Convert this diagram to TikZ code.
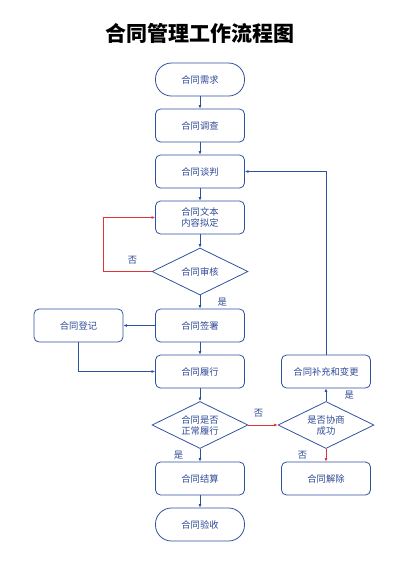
\documentclass[tikz,border=0pt]{standalone}
\usepackage{fontspec}
\setmainfont{Noto Sans CJK SC}
\usetikzlibrary{arrows.meta,positioning,shapes.geometric}
\definecolor{lineblue}{RGB}{47,82,160}
\definecolor{textblue}{RGB}{46,74,150}
\definecolor{nored}{RGB}{226,52,52}

\begin{document}
\begin{tikzpicture}[x=1pt,y=-1pt,node distance=46pt,auto,>={Latex[length=3.5pt,width=3pt]}]
    \tikzstyle{every node}=[font=\fontsize{9.3}{11}\selectfont,text=textblue]
    \tikzstyle{process}=[draw=lineblue,line width=0.8pt,rounded corners=5pt,minimum width=89pt,minimum height=33pt,align=center,inner sep=2pt]
    \tikzstyle{terminal}=[process,rounded corners=16pt]
    \tikzstyle{decision}=[diamond,draw=lineblue,line width=0.8pt,aspect=2,minimum width=96pt,minimum height=47pt,inner sep=0pt,align=center]
    \tikzstyle{flow}=[->,draw=lineblue,line width=0.8pt]
    \tikzstyle{reject}=[->,draw=nored,line width=0.8pt]

    \useasboundingbox (0,0) rectangle (400,566);
    \node[font=\fontsize{21}{21}\selectfont\bfseries,text=black] (title) at (200,33) {合同管理工作流程图};

    \node[terminal] (need)                         at (200,79.5) {合同需求};
    \node[process]  (survey)    [below of=need]                  {合同调查};
    \node[process]  (negotiate) [below of=survey]                {合同谈判};
    \node[process]  (draft)     [below of=negotiate]             {合同文本\\内容拟定};
    \node[decision] (review)    [node distance=54pt,below of=draft]   {合同审核};
    \node[process]  (sign)      [node distance=54pt,below of=review]  {合同签署};
    \node[process]  (register)  [node distance=121.5pt,left of=sign]  {合同登记};
    \node[process]  (perform)   [below of=sign]                  {合同履行};
    \node[decision] (normal)    [node distance=53.5pt,below of=perform] {合同是否\\正常履行};
    \node[process]  (settle)    [node distance=53.5pt,below of=normal]  {合同结算};
    \node[terminal] (accept)    [below of=settle]                {合同验收};
    \node[process]  (supplement) [node distance=126pt,right of=perform] {合同补充和变更};
    \node[decision] (consult)   [node distance=126pt,right of=normal]   {是否协商\\成功};
    \node[process]  (dissolve)  [node distance=126pt,right of=settle]   {合同解除};

    \path[flow]
    (need) edge (survey)
    (survey) edge (negotiate)
    (negotiate) edge (draft)
    (draft) edge (review)
    (review) edge node[right=14pt] {是} (sign)
    (sign) edge (register)
    (sign) edge (perform)
    (perform) edge (normal)
    (normal) edge node[left=13pt] {是} (settle)
    (settle) edge (accept)
    (consult) edge node[right=15pt] {是} (supplement);
    \draw[flow] (register.south) |- (perform.west);
    \draw[flow] (supplement.north) |- (negotiate.east);
    \draw[reject] (review.west) -- ++(-48,0) node[pos=0.4,above=4pt] {否} |- (draft.west);
    \draw[reject] (normal) -- node[pos=0.35,above=4pt] {否} (consult);
    \draw[reject] (consult) -- node[left=15pt] {否} (dissolve);
\end{tikzpicture}
\end{document}
